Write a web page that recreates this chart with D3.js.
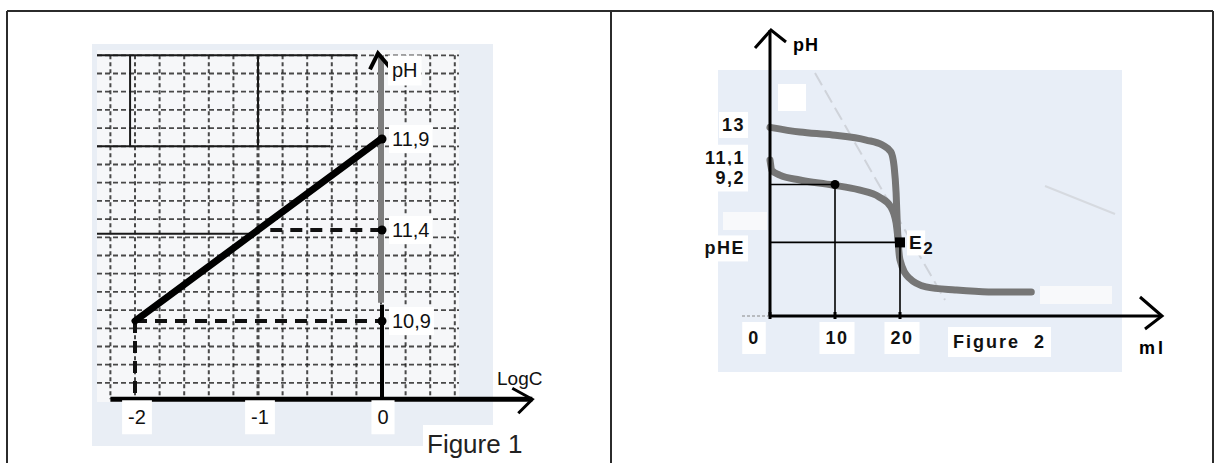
<!DOCTYPE html>
<html>
<head>
<meta charset="utf-8">
<script src="https://cdn.jsdelivr.net/npm/d3@7"></script>
<style>
  body { margin: 0; background: #fff; }
  svg { display: block; }
</style>
</head>
<body>
<svg id="chart"></svg>
<script>
var width = 1219, height = 463;

// ---- Figure 1 data : pH = f(logC)
var fig1LogC = [-2, 0];
var fig1PH = [10.9, 11.9];
var fig1Marks = [11.9, 11.4, 10.9];
var fig1MarkLabels = ["11,9", "11,4", "10,9"];
var fig1TicksX = [-2, -1, 0];
var fig1TickLabels = ["-2", "-1", "0"];

// ---- Figure 2 data : titration curves pH = f(V in ml)
var fig2UpperMl = [0, 4.6, 9.6, 14.8, 17.3, 18.6, 19.1, 19.4, 19.6, 20.0, 21.4, 24.0, 28.5, 33.6, 40.2];
var fig2UpperPH = [12.85, 12.55, 12.36, 12.04, 11.72, 11.28, 10.32, 8.66, 6.49, 4.38, 3.23, 2.66, 2.46, 2.34, 2.34];
var fig2LowerMl = [0, 0.3, 1.5, 4.6, 9.6, 13.7, 16.8, 18.6, 19.4, 19.7];
var fig2LowerPH = [10.77, 10.1, 9.8, 9.49, 9.17, 8.85, 8.4, 7.76, 6.74, 5.66];
var fig2YValues = [13, 11.1, 9.2, 5.5];
var fig2YLabels = ["13", "11,1", "9,2", "pHE"];
var fig2TicksX = [0, 10, 20];
var halfEq = { ml: 10, pH: 9.2 };
var equiv = { ml: 20, pH: 5.5 };

var svg = d3.select("#chart").attr("width", width).attr("height", height);

// table borders
var border = svg.append("g").attr("stroke", "#2b2b2b").attr("stroke-width", 2);
border.append("line").attr("x1", 7).attr("x2", 1213).attr("y1", 11).attr("y2", 11);
border.append("line").attr("x1", 7).attr("x2", 7).attr("y1", 11).attr("y2", height);
border.append("line").attr("x1", 611).attr("x2", 611).attr("y1", 11).attr("y2", height);
border.append("line").attr("x1", 1213).attr("x2", 1213).attr("y1", 11).attr("y2", height);

// text with a white box behind it, like the pasted labels of the scan
function boxedText(g, x, y, txt, style, pad) {
    pad = pad || 2;
    var t = g.append("text").attr("x", x).attr("y", y).text(txt);
    for (var k in style) t.attr(k, style[k]);
    var b = t.node().getBBox();
    g.insert("rect", function() { return t.node(); })
        .attr("x", b.x - pad).attr("y", b.y - pad)
        .attr("width", b.width + 2 * pad).attr("height", b.height + 2 * pad)
        .attr("fill", "#fff");
    return t;
}

/* ================= FIGURE 1 ================= */
var g1 = svg.append("g");
var x1 = d3.scaleLinear().domain([-2, 0]).range([135, 381]);
var y1 = d3.scaleLinear().domain([10.9, 11.9]).range([321, 139]);
var axisPH = 10.47;   // pH where the LogC axis sits
var gridTop = 12.36;

g1.append("rect").attr("x", 92).attr("y", 44).attr("width", 401).attr("height", 402).attr("fill", "#e9eef5");
g1.append("rect").attr("x", 97).attr("y", 50).attr("width", 362).attr("height", 352).attr("fill", "#f6f7f9");

// graph paper
var vGrid = d3.range(-2.2, 0.61, 0.2);
var hGrid = d3.range(-5, 14).map(function(k) { return 11.86 - 0.1 * k; }).filter(function(v) { return v <= gridTop && v > axisPH; });
g1.append("g").selectAll("line").data(vGrid).enter().append("line")
    .attr("x1", d => x1(d)).attr("x2", d => x1(d))
    .attr("y1", y1(gridTop)).attr("y2", y1(axisPH))
    .attr("stroke", "#1e1e1e").attr("stroke-width", d => Math.abs(d + 1) < 0.01 ? 3 : 2)
    .attr("stroke-dasharray", "4,3").attr("opacity", 0.8);
g1.append("g").selectAll("line").data(hGrid).enter().append("line")
    .attr("x1", 97).attr("x2", 459)
    .attr("y1", d => y1(d)).attr("y2", d => y1(d))
    .attr("stroke", "#1e1e1e").attr("stroke-width", 1.8)
    .attr("stroke-dasharray", "5,3").attr("opacity", 0.8);
// solid lines of the paper
var solid = g1.append("g").attr("stroke", "#1a1a1a").attr("stroke-width", 2);
solid.append("line").attr("x1", 97).attr("x2", 357).attr("y1", y1(gridTop)).attr("y2", y1(gridTop));
solid.append("line").attr("x1", 97).attr("x2", 330).attr("y1", y1(11.86)).attr("y2", y1(11.86));
solid.append("line").attr("x1", 97).attr("x2", 250).attr("y1", y1(11.38)).attr("y2", y1(11.38));
solid.append("line").attr("x1", x1(-2.04)).attr("x2", x1(-2.04)).attr("y1", y1(gridTop)).attr("y2", y1(11.86));
solid.append("line").attr("x1", x1(-1)).attr("x2", x1(-1)).attr("y1", y1(gridTop)).attr("y2", y1(11.86));

// thick dashed projections
var proj = g1.append("g").attr("stroke", "#111").attr("stroke-width", 4).attr("stroke-dasharray", "12,8");
proj.append("line").attr("x1", x1(-2)).attr("x2", x1(0)).attr("y1", y1(10.9)).attr("y2", y1(10.9));
proj.append("line").attr("x1", x1(-2)).attr("x2", x1(-2)).attr("y1", y1(10.9)).attr("y2", y1(axisPH));
proj.append("line").attr("x1", x1(-0.9)).attr("x2", x1(0)).attr("y1", y1(11.4)).attr("y2", y1(11.4));

// pH axis : grey, black below 10,9
g1.append("line").attr("x1", x1(0)).attr("x2", x1(0)).attr("y1", y1(12.36)).attr("y2", y1(11.0))
    .attr("stroke", "#7d7d7d").attr("stroke-width", 6);
g1.append("line").attr("x1", x1(0) + 1).attr("x2", x1(0) + 1).attr("y1", y1(10.99)).attr("y2", y1(axisPH))
    .attr("stroke", "#000").attr("stroke-width", 4);
g1.append("path")
    .attr("d", "M" + (x1(0) - 11) + "," + (y1(12.37) + 16) + "L" + (x1(0) - 3) + "," + y1(12.37) + "L" + (x1(0) + 9) + "," + (y1(12.37) + 14))
    .attr("fill", "none").attr("stroke", "#000").attr("stroke-width", 4);

// LogC axis
var xEnd = 1.23;
g1.append("line").attr("x1", x1(-2.2)).attr("x2", x1(xEnd)).attr("y1", y1(axisPH)).attr("y2", y1(axisPH))
    .attr("stroke", "#000").attr("stroke-width", 5);
g1.append("path")
    .attr("d", "M" + (x1(xEnd) - 20) + "," + (y1(axisPH) - 11) + "L" + x1(xEnd) + "," + y1(axisPH) + "L" + (x1(xEnd) - 14) + "," + (y1(axisPH) + 14))
    .attr("fill", "none").attr("stroke", "#000").attr("stroke-width", 3);
g1.append("g").selectAll("line").data(fig1TicksX).enter().append("line")
    .attr("x1", d => x1(d)).attr("x2", d => x1(d))
    .attr("y1", y1(axisPH)).attr("y2", y1(axisPH) + 6)
    .attr("stroke", "#000").attr("stroke-width", 3);

// the line pH = f(logC)
var line1 = d3.line().x((d, i) => x1(fig1LogC[i])).y(d => y1(d));
g1.append("path").datum(fig1PH).attr("d", line1)
    .attr("fill", "none").attr("stroke", "#000").attr("stroke-width", 7).attr("stroke-linecap", "round");

g1.append("g").selectAll("circle").data(fig1Marks).enter().append("circle")
    .attr("cx", x1(0) + 1).attr("cy", d => y1(d)).attr("r", 4.5).attr("fill", "#000");

var f1 = { "font-family": "Liberation Sans, Arial, sans-serif", "font-size": "20px", fill: "#111" };
boxedText(g1, x1(0) + 11, y1(12.37) + 24, "pH", f1, 4);
fig1Marks.forEach(function(v, i) {
    boxedText(g1, x1(0) + 11, y1(v) + 7, fig1MarkLabels[i], f1, 3);
});
fig1TicksX.forEach(function(v, i) {
    boxedText(g1, x1(v) + 2, y1(axisPH) + 25, fig1TickLabels[i], Object.assign({}, f1, { "text-anchor": "middle" }), 6);
});
g1.append("text").attr("x", 497).attr("y", 385).text("LogC")
    .attr("font-family", "Liberation Sans, Arial, sans-serif").attr("font-size", "19px").attr("fill", "#111");
boxedText(g1, 427, 453, "Figure 1", { "font-family": "Liberation Sans, Arial, sans-serif", "font-size": "26px", fill: "#222" }, 4);

/* ================= FIGURE 2 ================= */
var g2 = svg.append("g");
var x2 = d3.scaleLinear().domain([0, 20]).range([770, 900]);
var y2 = d3.scaleLinear().domain([0.8, 13]).range([316, 125]);

g2.append("rect").attr("x", 718).attr("y", 70).attr("width", 404).attr("height", 302).attr("fill", "#e8eef7");
g2.append("rect").attr("x", 778).attr("y", 84).attr("width", 28).attr("height", 27).attr("fill", "#fff");
g2.append("rect").attr("x", 1040).attr("y", 286).attr("width", 72).attr("height", 18).attr("fill", "#f8f9fb");
g2.append("rect").attr("x", 723).attr("y", 212).attr("width", 44).attr("height", 18).attr("fill", "#f8f9fb");
// faint scan marks
g2.append("line").attr("x1", 815).attr("y1", 73).attr("x2", 945).attr("y2", 300)
    .attr("stroke", "#cfd3da").attr("stroke-width", 2).attr("stroke-dasharray", "14,6");
g2.append("line").attr("x1", 1045).attr("y1", 186).attr("x2", 1115).attr("y2", 214)
    .attr("stroke", "#d6dae0").attr("stroke-width", 2);

// curves
var curve2 = d3.line().curve(d3.curveMonotoneX);
function pts(ml, ph) { return ml.map(function(m, i) { return [x2(m), y2(ph[i])]; }); }
g2.append("path").attr("d", curve2(pts(fig2UpperMl, fig2UpperPH)))
    .attr("fill", "none").attr("stroke", "#767676").attr("stroke-width", 7).attr("stroke-linecap", "round");
g2.append("path").attr("d", curve2(pts(fig2LowerMl, fig2LowerPH)))
    .attr("fill", "none").attr("stroke", "#767676").attr("stroke-width", 7).attr("stroke-linecap", "round");

// projections for half-equivalence and equivalence
var pr = g2.append("g").attr("stroke", "#000").attr("stroke-width", 1.6);
[halfEq, equiv].forEach(function(p) {
    pr.append("line").attr("x1", x2(0)).attr("x2", x2(p.ml)).attr("y1", y2(p.pH)).attr("y2", y2(p.pH));
    pr.append("line").attr("x1", x2(p.ml)).attr("x2", x2(p.ml)).attr("y1", y2(p.pH)).attr("y2", y2(0.8));
});
g2.append("circle").attr("cx", x2(halfEq.ml)).attr("cy", y2(halfEq.pH)).attr("r", 4.5).attr("fill", "#000");
g2.append("rect").attr("x", x2(equiv.ml) - 5).attr("y", y2(equiv.pH) - 5).attr("width", 10).attr("height", 10).attr("fill", "#000");

// axes
var ax = g2.append("g").attr("stroke", "#000").attr("fill", "none");
ax.append("line").attr("x1", x2(0)).attr("x2", x2(0)).attr("y1", y2(0.8)).attr("y2", 30).attr("stroke-width", 3);
ax.append("path").attr("d", "M755,48L771,30L786,42").attr("stroke-width", 3);
ax.append("line").attr("x1", 742).attr("x2", x2(0)).attr("y1", y2(0.8)).attr("y2", y2(0.8))
    .attr("stroke", "#888").attr("stroke-width", 1).attr("stroke-dasharray", "3,2");
ax.append("line").attr("x1", x2(0)).attr("x2", 1162).attr("y1", y2(0.8)).attr("y2", y2(0.8)).attr("stroke-width", 3);
ax.append("path").attr("d", "M1140,297L1162," + y2(0.8) + "L1145,329").attr("stroke-width", 3);
ax.selectAll("line.tk").data(fig2TicksX).enter().append("line").attr("class", "tk")
    .attr("x1", d => x2(d)).attr("x2", d => x2(d)).attr("y1", y2(0.8) - 4).attr("y2", y2(0.8) + 3).attr("stroke-width", 3);

var f2 = { "font-family": "Liberation Sans, Arial, sans-serif", "font-size": "18px", "font-weight": "bold",
    "letter-spacing": "1.5px", fill: "#111" };
g2.append("text").attr("x", 793).attr("y", 51).text("pH")
    .attr("font-family", f2["font-family"]).attr("font-size", "18px").attr("font-weight", "bold").attr("letter-spacing", "1px");
fig2YValues.forEach(function(v, i) {
    var dy = i === 0 ? 6 : (i === 1 ? 9 : (i === 2 ? 0 : 12));
    boxedText(g2, 745, y2(v) + dy, fig2YLabels[i], Object.assign({}, f2, { "text-anchor": "end" }), 3);
});
fig2TicksX.forEach(function(v) {
    boxedText(g2, x2(v) + (v === 0 ? -16 : 2), y2(0.8) + 28, String(v), Object.assign({}, f2, { "text-anchor": "middle" }), 6);
});
var e2 = boxedText(g2, x2(equiv.ml) + 9, y2(equiv.pH) + 7, "E", Object.assign({}, f2, { "font-size": "19px" }), 0);
e2.append("tspan").attr("dy", 5).attr("font-size", "17px").text("2");
boxedText(g2, 953, 348, "Figure\u00a0\u00a02", Object.assign({}, f2, { "letter-spacing": "2px" }), 5);
g2.append("text").attr("x", 1139).attr("y", 354).text("ml")
    .attr("font-family", f2["font-family"]).attr("font-size", "18px").attr("font-weight", "bold").attr("letter-spacing", "3px");
</script>
</body>
</html>
